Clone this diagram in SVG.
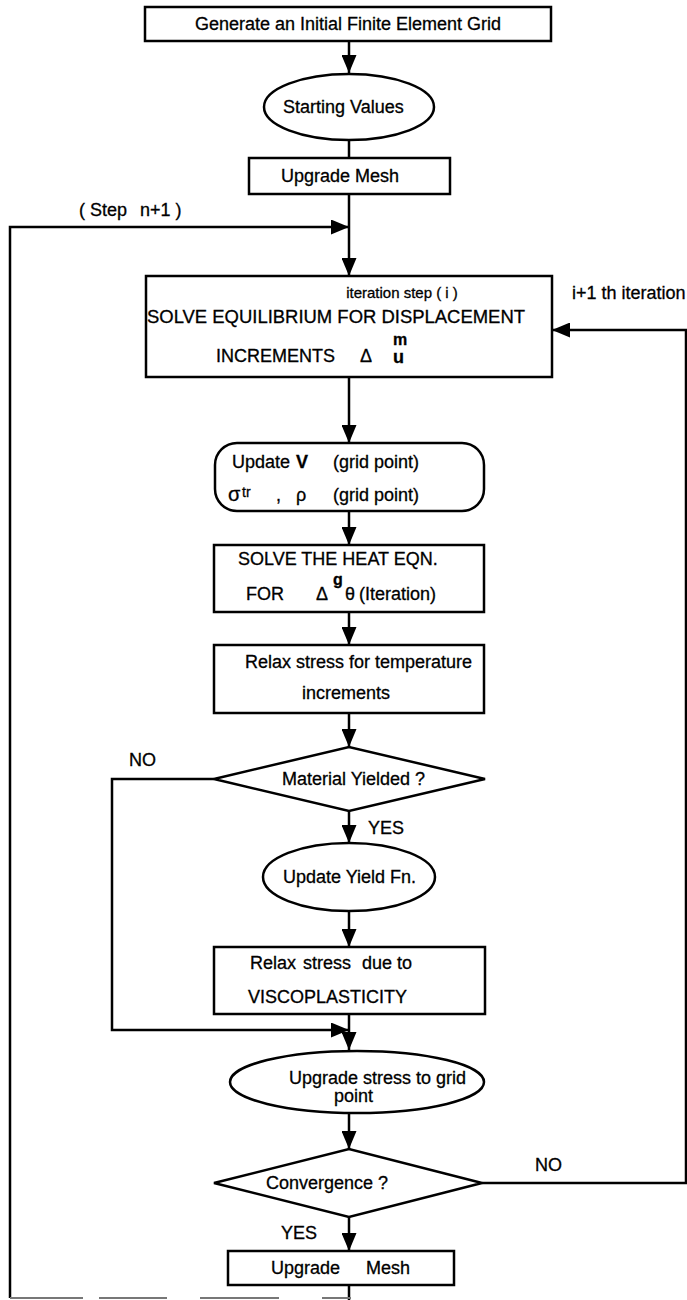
<svg xmlns="http://www.w3.org/2000/svg" width="687" height="1300" viewBox="0 0 687 1300">
<defs>
<marker id="ah" markerUnits="userSpaceOnUse" markerWidth="18" markerHeight="15" viewBox="0 0 18 15" refX="18" refY="7.5" orient="auto">
<path d="M0,0 L18,7.5 L0,15 Z" fill="#000"/>
</marker>
<style>
.s{fill:#fff;stroke:#000;stroke-width:2.5}
.c{fill:none;stroke:#000;stroke-width:2.5}
.a{fill:none;stroke:#000;stroke-width:2.5;marker-end:url(#ah)}
text{font-family:"Liberation Sans",Arial,sans-serif;font-size:18px;fill:#000;stroke:#000;stroke-width:0.3}
.sm{font-size:15px}
.b{font-weight:bold}
.sup{font-size:16px;font-weight:bold}
</style>
</defs>
<rect width="687" height="1300" fill="#fff"/>
<g id="connectors">
<path class="a" d="M349,41 V73"/>
<path class="c" d="M349,140 V158"/>
<path class="a" d="M349,194 V276"/>
<path class="a" d="M10,1298 V227 H349"/>
<path class="a" d="M349,377 V443"/>
<path class="a" d="M349,511 V545"/>
<path class="a" d="M349,612 V645"/>
<path class="a" d="M349,713 V747"/>
<path class="a" d="M349,811 V843"/>
<path class="a" d="M349,911 V947"/>
<path class="a" d="M349,1014 V1050"/>
<path class="a" d="M214,779 H112 V1030 H349"/>
<path class="a" d="M349,1113 V1149"/>
<path class="a" d="M482,1183 H686 V330 H552"/>
<path class="a" d="M349,1217 V1251"/>
<path class="c" d="M349,1285 V1300"/>
<path d="M10,1298 H83 M99,1298 H167 M200,1298 H279 M322,1298 H351" fill="none" stroke="#777" stroke-width="2"/>
</g>
<g id="n1"><rect class="s" x="145" y="7" width="406" height="34"/><text x="348" y="30" text-anchor="middle">Generate an Initial Finite Element Grid</text></g>
<g id="n2"><ellipse class="s" cx="349" cy="107" rx="85" ry="33"/><text x="283" y="113">Starting Values</text></g>
<g id="n3"><rect class="s" x="249" y="158" width="201" height="36"/><text x="281" y="182">Upgrade Mesh</text></g>
<g id="lbl-step"><text x="79" y="216">( Step</text><text x="140" y="216">n+1 )</text></g>
<g id="n4"><rect class="s" x="146" y="276" width="406" height="101"/>
<text class="sm" x="402" y="298" text-anchor="middle">iteration step ( i )</text>
<text x="147" y="323" textLength="378" lengthAdjust="spacingAndGlyphs">SOLVE EQUILIBRIUM FOR DISPLACEMENT</text>
<text x="216" y="362">INCREMENTS</text>
<text x="360" y="362">Δ</text>
<text class="b" x="393" y="363">u</text>
<text class="sup" x="393" y="345">m</text>
</g>
<g id="lbl-iter"><text x="572" y="299">i+1 th iteration</text></g>
<g id="n5"><rect class="s" x="215" y="443" width="269" height="68" rx="22" ry="22"/>
<text x="232" y="468">Update</text><text class="b" x="296" y="468">V</text><text x="333" y="468">(grid point)</text>
<text x="228" y="501" style="font-size:20px">σ</text><text x="242" y="497" style="font-size:14px">tr</text><text x="276" y="501">,</text><text x="296" y="501">ρ</text><text x="333" y="501">(grid point)</text>
</g>
<g id="n6"><rect class="s" x="214" y="545" width="270" height="67"/>
<text x="238" y="565">SOLVE THE HEAT EQN.</text>
<text x="246" y="600">FOR</text><text x="316" y="600">Δ</text><text class="sup" x="333" y="585">g</text><text x="345" y="600">θ</text><text x="359" y="600">(Iteration)</text>
</g>
<g id="n7"><rect class="s" x="214" y="645" width="270" height="68"/>
<text x="245" y="668">Relax stress for</text><text x="375" y="668">temperature</text>
<text x="302" y="699">increments</text>
</g>
<g id="n8"><polygon class="s" points="214,779 349,747 485,779 349,811"/><text x="282" y="785">Material Yielded ?</text></g>
<g id="lbl-no1"><text x="129" y="766">NO</text></g>
<g id="lbl-yes1"><text x="368" y="834">YES</text></g>
<g id="n9"><ellipse class="s" cx="349" cy="877" rx="86" ry="34"/><text x="283" y="883">Update Yield Fn.</text></g>
<g id="n10"><rect class="s" x="214" y="947" width="271" height="67"/>
<text x="250" y="969">Relax</text><text x="303" y="969">stress</text><text x="362" y="969">due to</text>
<text x="248" y="1003">VISCOPLASTICITY</text>
</g>
<g id="n11"><ellipse class="s" cx="357" cy="1082" rx="127" ry="31"/>
<text x="289" y="1084">Upgrade stress to grid</text><text x="334" y="1102">point</text></g>
<g id="n12"><polygon class="s" points="214,1183 349,1149 482,1183 349,1217"/><text x="266" y="1189">Convergence ?</text></g>
<g id="lbl-no2"><text x="535" y="1171">NO</text></g>
<g id="lbl-yes2"><text x="281" y="1239">YES</text></g>
<g id="n13"><rect class="s" x="228" y="1251" width="226" height="34"/><text x="271" y="1274">Upgrade</text><text x="366" y="1274">Mesh</text></g>
</svg>
